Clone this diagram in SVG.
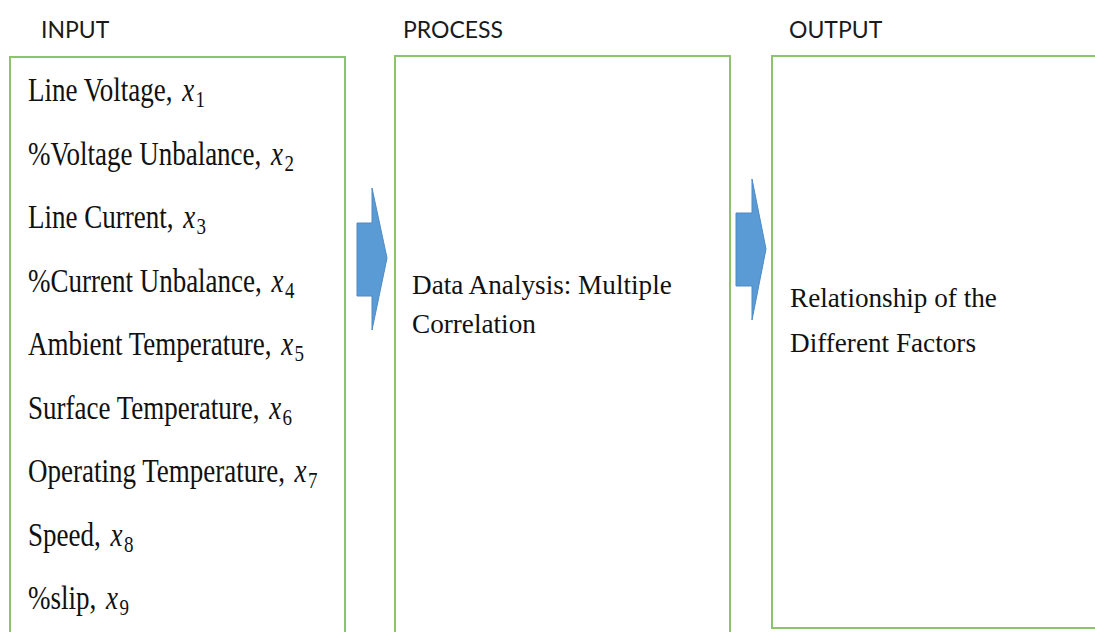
<svg xmlns="http://www.w3.org/2000/svg" width="1095" height="632" viewBox="0 0 1095 632">
  <defs>
    <style>
      .frame { fill: #ffffff; stroke: #8cc46c; stroke-width: 2; }
      .head { font-family: Lato, "Open Sans", "Liberation Sans", sans-serif; font-size: 23px; fill: #1a1a1a; }
      .item { font-family: "Liberation Serif", "Times New Roman", serif; font-size: 27px; fill: #111111; }
      .body { font-family: "Liberation Serif", "Times New Roman", serif; font-size: 27.2px; fill: #111111; }
      .var { font-style: italic; }
      .sub { font-size: 19px; }
      .flow { fill: #5b9bd5; stroke: #4f8ac2; stroke-width: 1; }
    </style>
  </defs>

  <rect width="1095" height="632" fill="#ffffff"/>

  <!-- column headings -->
  <text class="head" x="41" y="38">INPUT</text>
  <text class="head" x="403" y="38">PROCESS</text>
  <text class="head" x="789" y="38">OUTPUT</text>

  <!-- input variables -->
  <g id="input">
    <rect class="frame" x="10" y="57" width="335" height="590"/>
    <text class="item" transform="translate(28 101) scale(1 1.25)">Line Voltage, <tspan class="var" dx="3">x</tspan><tspan class="sub" dx="1.5" dy="5">1</tspan></text>
    <text class="item" transform="translate(28 164.5) scale(1 1.25)">%Voltage Unbalance, <tspan class="var" dx="3">x</tspan><tspan class="sub" dx="1.5" dy="5">2</tspan></text>
    <text class="item" transform="translate(28 228) scale(1 1.25)">Line Current, <tspan class="var" dx="3">x</tspan><tspan class="sub" dx="1.5" dy="5">3</tspan></text>
    <text class="item" transform="translate(28 291.5) scale(1 1.25)">%Current Unbalance, <tspan class="var" dx="3">x</tspan><tspan class="sub" dx="1.5" dy="5">4</tspan></text>
    <text class="item" transform="translate(28 355) scale(1 1.25)">Ambient Temperature, <tspan class="var" dx="3">x</tspan><tspan class="sub" dx="1.5" dy="5">5</tspan></text>
    <text class="item" transform="translate(28 418.5) scale(1 1.25)">Surface Temperature, <tspan class="var" dx="3">x</tspan><tspan class="sub" dx="1.5" dy="5">6</tspan></text>
    <text class="item" transform="translate(28 482) scale(1 1.25)">Operating Temperature, <tspan class="var" dx="3">x</tspan><tspan class="sub" dx="1.5" dy="5">7</tspan></text>
    <text class="item" transform="translate(28 545.5) scale(1 1.25)">Speed, <tspan class="var" dx="3">x</tspan><tspan class="sub" dx="1.5" dy="5">8</tspan></text>
    <text class="item" transform="translate(28 609) scale(1 1.25)">%slip, <tspan class="var" dx="3">x</tspan><tspan class="sub" dx="1.5" dy="5">9</tspan></text>
  </g>

  <!-- analysis step -->
  <g id="process">
    <rect class="frame" x="395" y="56" width="335" height="590"/>
    <text class="body" x="412" y="294">Data Analysis: Multiple</text>
    <text class="body" x="412" y="333">Correlation</text>
  </g>

  <!-- result -->
  <g id="output">
    <rect class="frame" x="772" y="56" width="340" height="572"/>
    <text class="body" x="790" y="307">Relationship of the</text>
    <text class="body" x="790" y="352">Different Factors</text>
  </g>

  <!-- block arrows between stages -->
  <g id="connectors">
    <polygon class="flow" points="357,223 372,223 372,188 387,258 372,330 372,296 357,296"/>
    <polygon class="flow" points="736,213 752,213 752,179 766,249 752,320 752,286 736,286"/>
  </g>
</svg>
